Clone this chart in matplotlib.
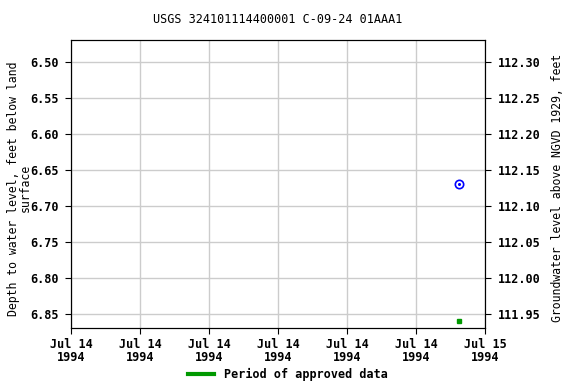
import datetime as dt

import matplotlib
matplotlib.use("Agg")
import matplotlib.pyplot as plt
import matplotlib.dates as mdates

title = "USGS 324101114400001 C-09-24 01AAA1"
obs_times = [dt.datetime(1994, 7, 14, 22, 30)]
obs_depth = [6.67]
approved_times = [dt.datetime(1994, 7, 14, 22, 30)]
datum_offset = 118.80  # elevation = offset - depth

x_start = dt.datetime(1994, 7, 14, 0, 0)
x_end = dt.datetime(1994, 7, 15, 0, 0)
y_top, y_bottom = 6.4694, 6.8694
left_ticks = [6.50, 6.55, 6.60, 6.65, 6.70, 6.75, 6.80, 6.85]

plt.rcParams["font.family"] = ["DejaVu Sans Mono"]
plt.rcParams["font.weight"] = "bold"
plt.rcParams["font.size"] = 8.5

fig = plt.figure(figsize=(5.76, 3.84), dpi=100)
ax = fig.add_axes([0.1233, 0.1458, 0.7187, 0.75])

ax.plot(obs_times, obs_depth, linestyle="none", marker="o", markersize=6,
        markerfacecolor="none", markeredgecolor="#0000ff", markeredgewidth=1.2)
ax.plot(obs_times, obs_depth, linestyle="none", marker="o", markersize=1.2,
        color="#0000ff")
ax.plot(approved_times, [6.86], linestyle="none", marker="s", markersize=3,
        color="#009900")

ax.set_xlim(x_start, x_end)
ax.set_ylim(y_bottom, y_top)
ax.set_yticks(left_ticks)
ax.set_yticklabels([f"{v:.2f}" for v in left_ticks])
ax.xaxis.set_major_locator(mdates.HourLocator(byhour=range(0, 24, 4)))
ax.xaxis.set_major_formatter(mdates.DateFormatter("%b %d\n%Y"))
for lbl in ax.get_xticklabels():
    lbl.set_linespacing(1.0)
ax.grid(True, color="#cccccc", linewidth=1)
ax.set_axisbelow(True)
ax.tick_params(direction="out", length=4, pad=5)
ax.tick_params(axis="x", pad=3)
ax.set_ylabel("Depth to water level, feet below land\nsurface",
              linespacing=0.9, fontsize=8.3)
ax.yaxis.set_label_coords(-0.095, 0.485)
ax.set_title(title, fontsize=8.5, pad=12)

ax2 = ax.twinx()
ax2.set_ylim(datum_offset - y_bottom, datum_offset - y_top)
right_ticks = [round(datum_offset - v, 2) for v in left_ticks]
ax2.set_yticks(right_ticks)
ax2.set_yticklabels([f"{v:.2f}" for v in right_ticks])
ax2.tick_params(direction="out", length=4, pad=5)
ax2.set_ylabel("Groundwater level above NGVD 1929, feet", fontsize=8.3)
ax2.yaxis.set_label_coords(1.16, 0.485)

handle = plt.Line2D([], [], color="#009900", linewidth=3)
fig.legend([handle], ["Period of approved data"], loc="lower center",
           bbox_to_anchor=(0.5, -0.02), frameon=False, handlelength=2.2)

fig.savefig("out.png", dpi=100)
